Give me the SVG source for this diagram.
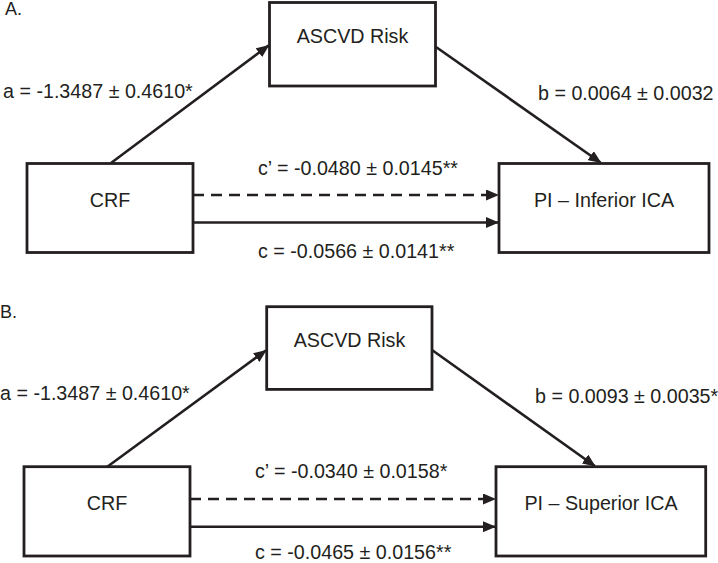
<svg xmlns="http://www.w3.org/2000/svg" width="718" height="563" viewBox="0 0 718 563">
<defs>
<marker id="ah" markerUnits="userSpaceOnUse" markerWidth="13" markerHeight="11" refX="12" refY="5.5" orient="auto" viewBox="0 0 13 11">
<path d="M0,0 L13,5.5 L0,11 z" fill="#231f20"/>
</marker>
<style>
.box{fill:#fff;stroke:#231f20;stroke-width:2.8}
.t{font-family:"Liberation Sans",Arial,sans-serif;font-size:19.7px;fill:#231f20}
.m{text-anchor:middle}
.lbl{font-family:"Liberation Sans",Arial,sans-serif;font-size:18px;fill:#231f20}
.ln{fill:none;stroke:#231f20;stroke-width:2.6;marker-end:url(#ah)}
.dash{stroke-dasharray:11 7}
</style>
</defs>
<rect width="718" height="563" fill="#fff"/>

<text class="lbl" x="5" y="15">A.</text>
<g id="a-ascvd"><rect class="box" x="269.5" y="2.5" width="166" height="83.5"/><text class="t m" x="352.5" y="43">ASCVD Risk</text></g>
<g id="a-crf"><rect class="box" x="27" y="163.5" width="166" height="89"/><text class="t m" x="110" y="207">CRF</text></g>
<g id="a-pi"><rect class="box" x="499" y="163.5" width="210" height="89"/><text class="t m" x="604" y="207">PI – Inferior ICA</text></g>
<g id="a-connectors">
<path class="ln" d="M111,163 L268.5,45.5"/>
<path class="ln" d="M436,47 L600.5,162.5"/>
<path class="ln dash" d="M193,195 H498"/>
<path class="ln" d="M193,222.5 H498"/>
<text class="t" x="3" y="98">a = -1.3487 ± 0.4610*</text>
<text class="t" x="538" y="100">b = 0.0064 ± 0.0032</text>
<text class="t" x="258" y="175">c’ = -0.0480 ± 0.0145**</text>
<text class="t" x="258" y="258">c = -0.0566 ± 0.0141**</text>
</g>

<text class="lbl" x="0" y="318">B.</text>
<g id="b-ascvd"><rect class="box" x="266.7" y="306.7" width="165.3" height="82.7"/><text class="t m" x="349.5" y="347">ASCVD Risk</text></g>
<g id="b-crf"><rect class="box" x="24" y="466.7" width="166" height="89.3"/><text class="t m" x="107" y="510">CRF</text></g>
<g id="b-pi"><rect class="box" x="496" y="466.7" width="209.7" height="89.3"/><text class="t m" x="601" y="510">PI – Superior ICA</text></g>
<g id="b-connectors">
<path class="ln" d="M107.3,466.7 L265.8,350.5"/>
<path class="ln" d="M432,350 L594.8,466"/>
<path class="ln dash" d="M190,499 H495"/>
<path class="ln" d="M190,526.7 H495"/>
<text class="t" x="0" y="400">a = -1.3487 ± 0.4610*</text>
<text class="t" x="535" y="403">b = 0.0093 ± 0.0035*</text>
<text class="t" x="255" y="478">c’ = -0.0340 ± 0.0158*</text>
<text class="t" x="255" y="559">c = -0.0465 ± 0.0156**</text>
</g>
</svg>
